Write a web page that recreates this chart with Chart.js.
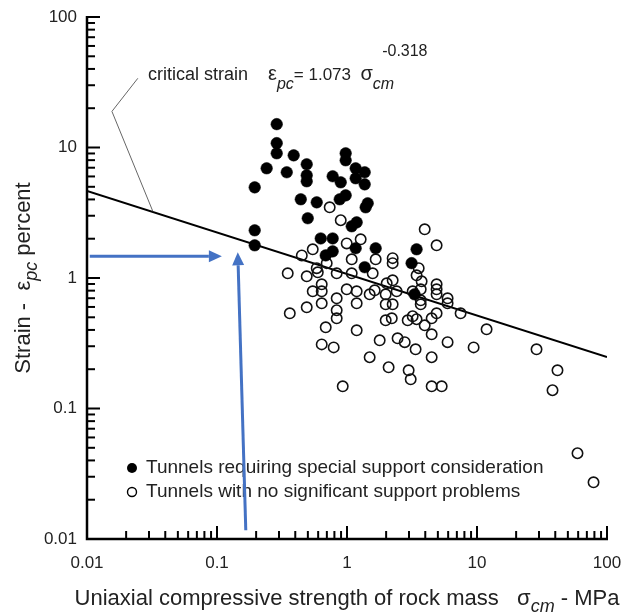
<!DOCTYPE html>
<html><head><meta charset="utf-8">
<script src="https://cdn.jsdelivr.net/npm/chart.js@4/dist/chart.umd.min.js"></script>
<style>html,body{margin:0;padding:0;background:#fff;}#wrap{width:628px;height:616px;}</style>
</head><body><div id="wrap"><canvas id="c" width="628" height="616"></canvas></div>
<script>
// ---- data ----
const specialX = [0.195,0.195,0.195,0.241,0.288,0.288,0.288,0.344,0.389,0.490,0.490,0.490,0.441,0.585,0.499,0.628,0.776,0.776,0.686,0.977,0.977,1.166,1.368,1.166,1.368,0.776,0.895,0.879,0.977,1.443,1.392,1.087,1.187,1.166,1.662,1.368,3.43,3.14,3.31];
const specialY = [4.95,2.32,1.78,6.93,15.1,10.8,9.03,6.46,8.71,7.44,6.12,5.51,4.01,3.80,2.87,2.01,2.01,1.60,1.49,9.03,7.98,6.93,6.46,5.81,5.22,6.02,5.41,4.01,4.30,3.74,3.48,2.49,2.67,1.69,1.69,1.21,1.66,1.30,0.750];
const normalX = [0.736,0.895,1.274,0.995,0.545,0.449,1.087,1.662,2.245,2.245,3.96,4.89,3.56,0.585,0.698,0.350,0.490,0.596,0.833,1.087,1.576,0.639,0.545,0.639,0.995,1.187,1.494,1.633,2.02,2.245,1.984,2.41,3.43,3.75,4.89,4.89,4.89,3.20,3.69,5.94,5.94,3.69,3.69,7.48,11.85,0.639,0.833,1.187,1.984,2.245,0.363,0.490,0.833,0.833,1.984,2.21,2.93,3.20,3.96,4.48,4.89,0.686,1.187,4.48,0.639,0.790,1.784,2.45,2.78,3.37,5.94,9.42,1.494,4.48,2.09,2.98,3.09,0.927,4.48,5.35,28.7,41.6,38.1,59.3,78.8,3.43];
const normalY = [3.48,2.77,1.98,1.84,1.66,1.49,1.39,1.39,1.42,1.30,2.36,1.78,1.19,1.19,1.30,1.086,1.03,1.106,1.086,1.086,1.086,0.895,0.791,0.791,0.819,0.791,0.750,0.805,0.911,0.960,0.750,0.791,1.049,0.943,0.895,0.819,0.750,0.791,0.819,0.699,0.640,0.675,0.629,0.536,0.404,0.640,0.699,0.640,0.629,0.629,0.536,0.596,0.566,0.491,0.474,0.491,0.474,0.509,0.434,0.491,0.536,0.419,0.397,0.370,0.310,0.294,0.333,0.345,0.322,0.284,0.322,0.294,0.247,0.247,0.207,0.196,0.1675,0.148,0.148,0.148,0.284,0.196,0.138,0.0454,0.0272,0.483];
const criticalX = [0.01, 100];
const criticalY = [4.64, 0.248];
const tickValues = [0.01, 0.1, 1, 10, 100];
const tickLabels = ['0.01', '0.1', '1', '10', '100'];
const legendLabels = ['Tunnels requiring special support consideration', 'Tunnels with no significant support problems'];
// annotation leader line and blue arrows (data coordinates)
const leaderX = [0.0246, 0.01555, 0.0321];
const leaderY = [33.9, 18.9, 3.24];
const arrowHX = [0.0105, 0.109], arrowHY = [1.467, 1.467];
const arrowVX = [0.1665, 0.1445], arrowVY = [0.01166, 1.574];

const FONT = '"Liberation Sans", Arial, sans-serif';
const TXT = '#222';

function toPts(xs, ys){ return xs.map((x,i)=>({x:x, y:ys[i]})); }

function richWidth(ctx, parts){
  let w=0; parts.forEach(p=>{ctx.font=p.f; w+=ctx.measureText(p.t).width + (p.gap||0);}); return w;
}
function drawRich(ctx, parts, x, y, align){
  let w = richWidth(ctx, parts);
  let cx = align==='center' ? x - w/2 : x;
  ctx.textBaseline='alphabetic'; ctx.textAlign='left';
  parts.forEach(p=>{ ctx.font=p.f; ctx.fillStyle=TXT; ctx.fillText(p.t, cx, y + (p.dy||0)); cx += ctx.measureText(p.t).width + (p.gap||0); });
}

function drawArrow(ctx, x0,y0,x1,y1, head, half){
  const dx=x1-x0, dy=y1-y0, L=Math.hypot(dx,dy), ux=dx/L, uy=dy/L;
  const bx=x1-ux*head, by=y1-uy*head;
  ctx.beginPath(); ctx.moveTo(x0,y0); ctx.lineTo(bx,by); ctx.stroke();
  ctx.beginPath(); ctx.moveTo(x1,y1); ctx.lineTo(bx - uy*half, by + ux*half); ctx.lineTo(bx + uy*half, by - ux*half); ctx.closePath(); ctx.fill();
}

const deco = {
  id:'deco',
  afterDatasetsDraw(chart){
    const ctx = chart.ctx, xs = chart.scales.x, ys = chart.scales.y, a = chart.chartArea;
    ctx.save();
    // axes
    ctx.strokeStyle='#000'; ctx.lineWidth=2.5; ctx.lineCap='butt';
    ctx.beginPath(); ctx.moveTo(a.left, a.top-1); ctx.lineTo(a.left, a.bottom); ctx.lineTo(a.right+1, a.bottom); ctx.stroke();
    // ticks
    ctx.lineWidth=2;
    for (let e=-2; e<=2; e++){
      for (let m=1; m<=9; m++){
        const v = m*Math.pow(10,e);
        if (v>100.0001) break;
        const len = (m===1)?13:8;
        const yp = ys.getPixelForValue(v), xp = xs.getPixelForValue(v);
        ctx.beginPath(); ctx.moveTo(a.left, yp); ctx.lineTo(a.left+len, yp); ctx.stroke();
        ctx.beginPath(); ctx.moveTo(xp, a.bottom); ctx.lineTo(xp, a.bottom-len); ctx.stroke();
      }
    }
    // leader line
    ctx.strokeStyle='#666'; ctx.lineWidth=1;
    ctx.beginPath();
    leaderX.forEach((x,i)=>{const px=xs.getPixelForValue(x), py=ys.getPixelForValue(leaderY[i]); i?ctx.lineTo(px,py):ctx.moveTo(px,py);});
    ctx.stroke();
    // annotation text
    const F18 = '18px '+FONT, F17='17px '+FONT, I16 = 'italic 16px '+FONT, S16='16px '+FONT, G20 = '20px '+FONT;
    drawRich(ctx, [
      {t:'critical strain    ', f:F18},
      {t:'ε', f:G20},
      {t:'pc', f:I16, dy:9},
      {t:'= 1.073  ', f:F17},
      {t:'σ', f:G20},
      {t:'cm', f:I16, dy:9, gap:-12},
      {t:'-0.318', f:S16, dy:-24}
    ], 148, 80, 'left');
    // axis titles
    const T22='22px '+FONT, TI='italic 18px '+FONT;
    drawRich(ctx, [
      {t:'Uniaxial compressive strength of rock mass   ', f:T22},
      {t:'σ', f:T22},
      {t:'cm', f:TI, dy:7},
      {t:' - MPa', f:T22}
    ], 347, 605, 'center');
    ctx.save(); ctx.translate(30, 278); ctx.rotate(-Math.PI/2);
    drawRich(ctx, [
      {t:'Strain -  ', f:T22},
      {t:'ε', f:T22},
      {t:'pc', f:TI, dy:7},
      {t:' percent', f:T22}
    ], 0, 0, 'center');
    ctx.restore();
    // legend
    ctx.fillStyle='#000'; ctx.strokeStyle='#000'; ctx.lineWidth=1.4;
    ctx.beginPath(); ctx.arc(132, 468, 5, 0, 2*Math.PI); ctx.fill();
    ctx.beginPath(); ctx.arc(132, 492, 4.5, 0, 2*Math.PI); ctx.stroke();
    ctx.font='19px '+FONT; ctx.fillStyle=TXT; ctx.textBaseline='middle'; ctx.textAlign='left';
    ctx.fillText(legendLabels[0], 146, 468);
    ctx.fillText(legendLabels[1], 146, 492);
    // blue arrows
    ctx.strokeStyle='#4472C4'; ctx.fillStyle='#4472C4'; ctx.lineWidth=3;
    drawArrow(ctx, xs.getPixelForValue(arrowHX[0]), ys.getPixelForValue(arrowHY[0]), xs.getPixelForValue(arrowHX[1]), ys.getPixelForValue(arrowHY[1]), 13, 6);
    drawArrow(ctx, xs.getPixelForValue(arrowVX[0]), ys.getPixelForValue(arrowVY[0]), xs.getPixelForValue(arrowVX[1]), ys.getPixelForValue(arrowVY[1]), 13, 6);
    ctx.restore();
  }
};

function fmt(v){ const i = tickValues.findIndex(t=>Math.abs(t-v)/t<1e-6); return i>=0?tickLabels[i]:''; }

new Chart(document.getElementById('c'), {
  type:'scatter',
  data:{ datasets:[
    {label:legendLabels[0], data:toPts(specialX, specialY), pointRadius:5.8, pointBackgroundColor:'#000', pointBorderColor:'#000', pointBorderWidth:0.5},
    {label:legendLabels[1], data:toPts(normalX, normalY), pointRadius:5.2, pointBackgroundColor:'rgba(0,0,0,0)', pointBorderColor:'#111', pointBorderWidth:1.6},
    {label:'critical strain', type:'line', data:toPts(criticalX, criticalY), borderColor:'#000', borderWidth:2, pointRadius:0, fill:false}
  ]},
  options:{
    responsive:false, animation:false, devicePixelRatio:1,
    layout:{padding:{top:17, right:21, left:0, bottom:0}},
    plugins:{legend:{display:false}, tooltip:{enabled:false}},
    scales:{
      x:{type:'logarithmic', min:0.01, max:100,
         afterBuildTicks:s=>{s.ticks = tickValues.map(v=>({value:v}));},
         afterFit:s=>{s.height=77; s.paddingLeft=0; s.paddingRight=0;},
         grid:{display:false, drawTicks:false}, border:{display:false},
         ticks:{callback:v=>fmt(v), font:{family:FONT, size:17}, color:TXT, padding:14, maxRotation:0, autoSkip:false}},
      y:{type:'logarithmic', min:0.01, max:100,
         afterBuildTicks:s=>{s.ticks = tickValues.map(v=>({value:v}));},
         afterFit:s=>{s.width=87; s.paddingTop=0; s.paddingBottom=0;},
         grid:{display:false, drawTicks:false}, border:{display:false},
         ticks:{callback:v=>fmt(v), font:{family:FONT, size:17}, color:TXT, padding:10, autoSkip:false}}
    }
  },
  plugins:[deco]
});
</script></body></html>
